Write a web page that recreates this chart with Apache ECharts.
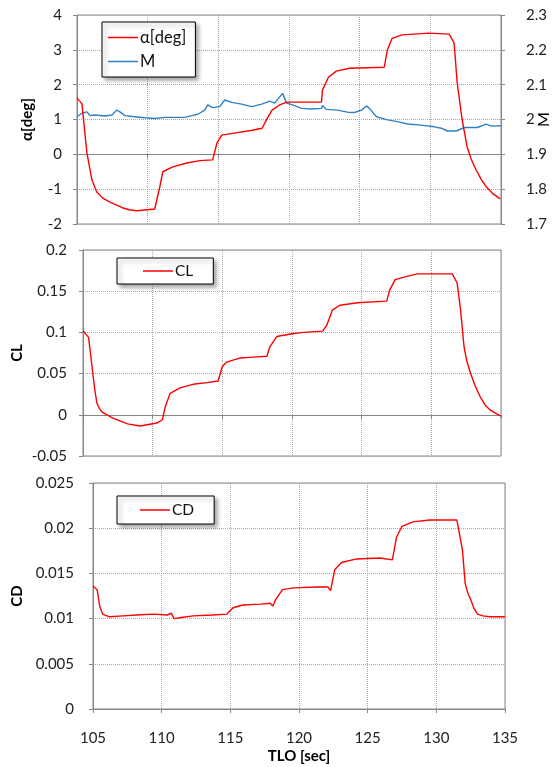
<!DOCTYPE html>
<html>
<head>
<meta charset="utf-8">
<title>Angle of attack, Mach number, CL and CD vs time</title>
<script src="https://cdn.jsdelivr.net/npm/echarts@6/dist/echarts.min.js"></script>
<style>
  html, body { margin: 0; padding: 0; background: #fff; }
  #chart { width: 553px; height: 767px; }
</style>
</head>
<body>
<div id="chart"></div>
<script>
// ---- Time axis (seconds) ----
const timeTicks = [105, 110, 115, 120, 125, 130, 135];

// ---- Angle of attack α [deg] ----
const alphaTime = [105.0, 105.35, 105.7, 106.06, 106.4, 106.8, 107.33, 108.25, 108.7, 109.24, 110.5, 110.86, 111.07, 111.78, 112.77, 113.68, 114.6, 114.9, 115.24, 116.0, 117.4, 118.1, 118.4, 118.8, 119.3, 119.83, 122.3, 122.37, 122.8, 123.35, 124.27, 126.74, 126.96, 127.3, 128.0, 129.9, 131.33, 131.68, 131.9, 132.25, 132.6, 132.9, 133.24, 133.6, 133.95, 134.4, 134.94];
const alphaDeg  = [1.62, 1.45, 0.04, -0.74, -1.08, -1.25, -1.37, -1.54, -1.59, -1.62, -1.57, -0.93, -0.5, -0.36, -0.25, -0.18, -0.16, 0.32, 0.55, 0.6, 0.69, 0.75, 0.99, 1.27, 1.41, 1.5, 1.5, 1.85, 2.22, 2.39, 2.47, 2.5, 3.0, 3.33, 3.43, 3.48, 3.45, 3.2, 2.05, 1.0, 0.22, -0.15, -0.45, -0.72, -0.93, -1.12, -1.28];

// ---- Mach number M ----
const machTime = [105.0, 105.35, 105.71, 105.92, 106.27, 106.98, 107.47, 107.82, 108.04, 108.39, 109.1, 109.8, 110.51, 111.21, 111.92, 112.63, 113.12, 113.55, 114.04, 114.25, 114.6, 115.1, 115.45, 115.95, 116.65, 117.36, 118.07, 118.63, 118.98, 119.55, 119.83, 120.25, 120.89, 121.6, 122.3, 122.37, 122.66, 123.43, 124.14, 124.63, 125.13, 125.48, 125.69, 126.19, 126.96, 127.67, 128.38, 129.36, 130.28, 130.78, 131.2, 131.84, 132.4, 133.32, 133.95, 134.31, 135.0];
const machVals = [2.008, 2.018, 2.022, 2.011, 2.013, 2.010, 2.013, 2.027, 2.022, 2.011, 2.008, 2.005, 2.003, 2.006, 2.006, 2.006, 2.011, 2.015, 2.027, 2.042, 2.034, 2.037, 2.056, 2.049, 2.044, 2.037, 2.044, 2.053, 2.047, 2.075, 2.047, 2.042, 2.032, 2.030, 2.032, 2.040, 2.029, 2.027, 2.021, 2.020, 2.027, 2.039, 2.032, 2.008, 1.999, 1.994, 1.987, 1.984, 1.979, 1.975, 1.967, 1.967, 1.977, 1.977, 1.987, 1.981, 1.982];

// ---- Lift coefficient CL ----
const clTime = [105.0, 105.4, 105.7, 105.85, 106.0, 106.2, 106.4, 107.15, 108.2, 109.1, 110.3, 110.7, 110.9, 111.25, 112.0, 112.9, 113.9, 114.7, 114.98, 115.3, 116.3, 117.2, 118.2, 118.4, 118.9, 119.9, 120.8, 122.2, 122.5, 122.9, 123.45, 124.7, 126.8, 127.0, 127.4, 128.25, 129.0, 131.5, 131.85, 132.1, 132.35, 132.55, 132.8, 133.1, 133.5, 133.85, 134.2, 134.6, 135.0];
const clVals = [0.102, 0.094, 0.051, 0.030, 0.014, 0.007, 0.003, -0.004, -0.011, -0.0136, -0.010, -0.006, 0.0095, 0.026, 0.033, 0.037, 0.039, 0.041, 0.058, 0.064, 0.069, 0.070, 0.071, 0.082, 0.095, 0.098, 0.100, 0.1015, 0.109, 0.127, 0.133, 0.136, 0.138, 0.151, 0.164, 0.168, 0.171, 0.171, 0.160, 0.127, 0.082, 0.065, 0.051, 0.037, 0.022, 0.012, 0.006, 0.002, -0.0015];

// ---- Drag coefficient CD ----
const cdTime = [105.0, 105.3, 105.5, 105.7, 106.2, 107.2, 108.2, 109.4, 110.4, 110.7, 110.9, 111.3, 112.3, 113.7, 114.75, 115.2, 115.9, 117.2, 117.9, 118.1, 118.3, 118.8, 119.6, 121.3, 122.1, 122.3, 122.6, 123.1, 124.2, 125.9, 126.8, 127.1, 127.5, 128.3, 129.5, 131.5, 131.6, 131.9, 132.1, 132.3, 132.5, 132.75, 133.0, 133.4, 133.9, 135.0];
const cdVals = [0.0136, 0.0132, 0.0113, 0.0105, 0.0102, 0.0103, 0.0104, 0.0105, 0.0104, 0.0106, 0.0100, 0.0101, 0.0103, 0.0104, 0.0105, 0.0112, 0.0115, 0.0116, 0.0117, 0.0114, 0.0121, 0.0132, 0.0134, 0.0135, 0.0135, 0.0131, 0.0154, 0.0162, 0.0166, 0.0167, 0.0165, 0.0190, 0.0202, 0.0207, 0.0209, 0.0209, 0.0210, 0.0176, 0.0139, 0.0128, 0.0121, 0.0111, 0.0105, 0.0103, 0.0102, 0.0102];

// ---- Axis ranges ----
const alphaAxis = { min: -2, max: 4, interval: 1 };
const machAxis  = { min: 1.7, max: 2.3, interval: 0.1 };
const clAxis    = { min: -0.05, max: 0.2, interval: 0.05 };
const cdAxis    = { min: 0, max: 0.025, interval: 0.005 };

const pairs = (xs, ys) => xs.map((x, i) => [x, ys[i]]);

const FONT = 'Lato, "Open Sans", sans-serif';
const labelStyle = { color: '#222', fontSize: 15, fontFamily: FONT };
const nameStyle = { color: '#000', fontSize: 15, fontWeight: 'bold', fontFamily: FONT };
const gridLine = { show: true, lineStyle: { color: '#a6a6a6', type: [1, 1], width: 1 } };
const frameLine = { show: true, lineStyle: { color: '#868686', width: 1 } };
const tickStyle = { show: true, length: 4, lineStyle: { color: '#868686' } };

function timeAxis(gridIndex, showLabels) {
  return {
    type: 'value', gridIndex,
    min: timeTicks[0], max: timeTicks[timeTicks.length - 1], interval: 5,
    axisLine: frameLine, axisTick: tickStyle, splitLine: gridLine,
    axisLabel: Object.assign({ show: showLabels, margin: 22 }, labelStyle),
    name: showLabels ? 'TLO [sec]' : '', nameLocation: 'middle', nameGap: 40,
    nameMoveOverlap: false, nameTextStyle: nameStyle
  };
}

function legendBox(names, left, top, padding, fontSize) {
  return {
    data: names, left, top, orient: 'vertical',
    icon: 'rect', itemWidth: 30, itemHeight: 1.5, itemGap: 7,
    padding, backgroundColor: '#fff',
    borderColor: '#000', borderWidth: 1,
    shadowColor: 'rgba(0,0,0,0.35)', shadowBlur: 4, shadowOffsetX: 3, shadowOffsetY: 3,
    textStyle: { color: '#111', fontSize: fontSize, fontFamily: FONT, padding: [0, 0, 0, -3] }
  };
}

function plotGrid(left, top, width, height) {
  return { left, top, width, height, outerBoundsMode: 'none', containLabel: false,
           show: true, borderColor: '#868686', borderWidth: 1 };
}

const chart = echarts.init(document.getElementById('chart'), null, { renderer: 'canvas' });

chart.setOption({
  animation: false,
  backgroundColor: '#fff',
  grid: [
    plotGrid(77, 15, 424, 209),
    plotGrid(83, 250, 418, 206),
    plotGrid(93, 483, 412, 226)
  ],
  legend: [
    legendBox(['α[deg]', 'M'], 102, 22, [7, 9, 7, 6], 16.5),
    legendBox(['CL'], 117, 258, [5, 20, 5, 26], 15.5),
    legendBox(['CD'], 117, 496, [6, 20, 6, 23], 15.5)
  ],
  xAxis: [timeAxis(0, false), timeAxis(1, false), timeAxis(2, true)],
  yAxis: [
    Object.assign({
      type: 'value', gridIndex: 0, position: 'left',
      axisLine: frameLine, axisTick: tickStyle, splitLine: gridLine,
      axisLabel: Object.assign({ margin: 15 }, labelStyle),
      name: 'α[deg]', nameLocation: 'middle', nameRotate: 90, nameGap: 42,
      nameMoveOverlap: false, nameTextStyle: nameStyle
    }, alphaAxis),
    Object.assign({
      type: 'value', gridIndex: 0, position: 'right',
      axisLine: frameLine, axisTick: tickStyle, splitLine: { show: false },
      axisLabel: Object.assign({ margin: 25 }, labelStyle),
      name: 'M', nameLocation: 'middle', nameRotate: 90, nameGap: 35, nameMoveOverlap: false,
      nameTextStyle: Object.assign({}, nameStyle, { fontWeight: 'normal', fontSize: 16 })
    }, machAxis),
    Object.assign({
      type: 'value', gridIndex: 1,
      axisLine: frameLine, axisTick: tickStyle, splitLine: gridLine,
      axisLabel: Object.assign({ margin: 16 }, labelStyle),
      name: 'CL', nameLocation: 'middle', nameRotate: 90, nameGap: 58,
      nameMoveOverlap: false, nameTextStyle: nameStyle
    }, clAxis),
    Object.assign({
      type: 'value', gridIndex: 2,
      axisLine: frameLine, axisTick: tickStyle, splitLine: gridLine,
      axisLabel: Object.assign({ margin: 19 }, labelStyle),
      name: 'CD', nameLocation: 'middle', nameRotate: 90, nameGap: 68,
      nameMoveOverlap: false, nameTextStyle: nameStyle
    }, cdAxis)
  ],
  series: [
    { name: 'α[deg]', type: 'line', xAxisIndex: 0, yAxisIndex: 0, data: pairs(alphaTime, alphaDeg),
      symbol: 'none', color: '#ff0000', lineStyle: { width: 1.4, color: '#ff0000' }, z: 3 },
    { name: 'M', type: 'line', xAxisIndex: 0, yAxisIndex: 1, data: pairs(machTime, machVals),
      symbol: 'none', color: '#2f82c6', lineStyle: { width: 1.4, color: '#2f82c6' }, z: 2 },
    { name: 'CL', type: 'line', xAxisIndex: 1, yAxisIndex: 2, data: pairs(clTime, clVals),
      symbol: 'none', color: '#ff0000', lineStyle: { width: 1.4, color: '#ff0000' } },
    { name: 'CD', type: 'line', xAxisIndex: 2, yAxisIndex: 3, data: pairs(cdTime, cdVals),
      symbol: 'none', color: '#ff0000', lineStyle: { width: 1.4, color: '#ff0000' } }
  ]
});
</script>
</body>
</html>
